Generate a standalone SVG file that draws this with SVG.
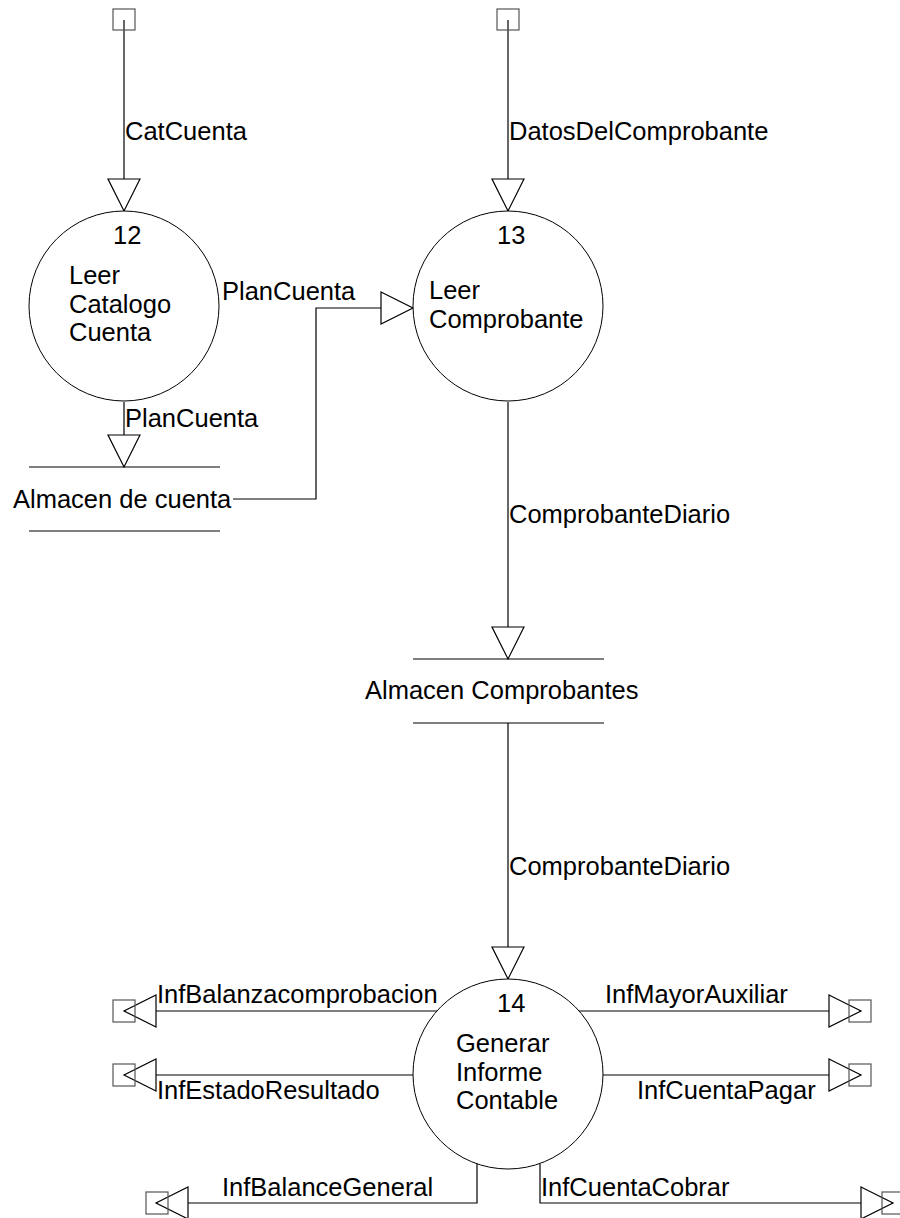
<svg xmlns="http://www.w3.org/2000/svg" width="900" height="1218" viewBox="0 0 900 1218">
<style>
text{font-family:"Liberation Sans",Arial,sans-serif;font-size:25.5px;fill:#000}
.proc{fill:#fff;stroke:#000;stroke-width:1}
.ext{fill:none;stroke:#555;stroke-width:1.2}
.store{stroke:#000;stroke-width:1.2}
.flow{fill:none;stroke:#000;stroke-width:1.2;marker-end:url(#arr)}
</style>
<defs>
<marker id="arr" viewBox="0 0 32 32" refX="32" refY="16" markerWidth="32" markerHeight="32" markerUnits="userSpaceOnUse" orient="auto" overflow="visible">
<path d="M0,0 L32,16 L0,32 Z" fill="#fff" stroke="#000" stroke-width="1.2"/>
</marker>
</defs>
<rect width="900" height="1218" fill="#fff"/>
<g id="connectors">
<path class="flow" d="M124,20 V211"/>
<text x="125" y="140">CatCuenta</text>
<path class="flow" d="M508,20 V211"/>
<text x="509" y="140">DatosDelComprobante</text>
<path class="flow" d="M124,402 V467"/>
<text x="125" y="427">PlanCuenta</text>
<path class="flow" d="M233,499 H316 V308 H413"/>
<text x="222" y="300">PlanCuenta</text>
<path class="flow" d="M508,402 V659"/>
<text x="509" y="523">ComprobanteDiario</text>
<path class="flow" d="M508,723 V979"/>
<text x="509" y="875">ComprobanteDiario</text>
<path class="flow" d="M437,1011 H124"/>
<text x="157" y="1003">InfBalanzacomprobacion</text>
<path class="flow" d="M413,1075 H124"/>
<text x="157" y="1099">InfEstadoResultado</text>
<path class="flow" d="M477,1164 V1203 H156"/>
<text x="222" y="1196">InfBalanceGeneral</text>
<path class="flow" d="M579,1011 H861"/>
<text x="605" y="1003">InfMayorAuxiliar</text>
<path class="flow" d="M603,1075 H861"/>
<text x="637" y="1099">InfCuentaPagar</text>
<path class="flow" d="M540,1164 V1203 H893"/>
<text x="541" y="1196">InfCuentaCobrar</text>
</g>
<g id="ext-catcuenta"><rect class="ext" x="113" y="9" width="22" height="21"/></g>
<g id="ext-datos"><rect class="ext" x="497" y="9" width="22" height="21"/></g>
<g id="ext-balanza"><rect class="ext" x="113" y="1000" width="22" height="22"/></g>
<g id="ext-estado"><rect class="ext" x="113" y="1064" width="22" height="22"/></g>
<g id="ext-balance"><rect class="ext" x="146" y="1192" width="22" height="22"/></g>
<g id="ext-mayor"><rect class="ext" x="849" y="1000" width="22" height="22"/></g>
<g id="ext-pagar"><rect class="ext" x="849" y="1064" width="22" height="22"/></g>
<g id="ext-cobrar"><rect class="ext" x="882" y="1192" width="22" height="22"/></g>
<g id="proc-12">
<circle class="proc" cx="124" cy="306" r="95"/>
<text x="113" y="244">12</text>
<text x="69" y="284">Leer</text>
<text x="69" y="313">Catalogo</text>
<text x="69" y="341">Cuenta</text>
</g>
<g id="proc-13">
<circle class="proc" cx="508" cy="306" r="95"/>
<text x="497" y="244">13</text>
<text x="429" y="299">Leer</text>
<text x="429" y="328">Comprobante</text>
</g>
<g id="proc-14">
<circle class="proc" cx="508" cy="1074" r="95"/>
<text x="497" y="1012">14</text>
<text x="456" y="1052">Generar</text>
<text x="456" y="1081">Informe</text>
<text x="456" y="1109">Contable</text>
</g>
<g id="store-cuenta">
<line class="store" x1="29" y1="467" x2="220" y2="467"/>
<line class="store" x1="29" y1="531" x2="220" y2="531"/>
<text x="13" y="508">Almacen de cuenta</text>
</g>
<g id="store-comprobantes">
<line class="store" x1="413" y1="659" x2="604" y2="659"/>
<line class="store" x1="413" y1="723" x2="604" y2="723"/>
<text x="365" y="699">Almacen Comprobantes</text>
</g>
</svg>
